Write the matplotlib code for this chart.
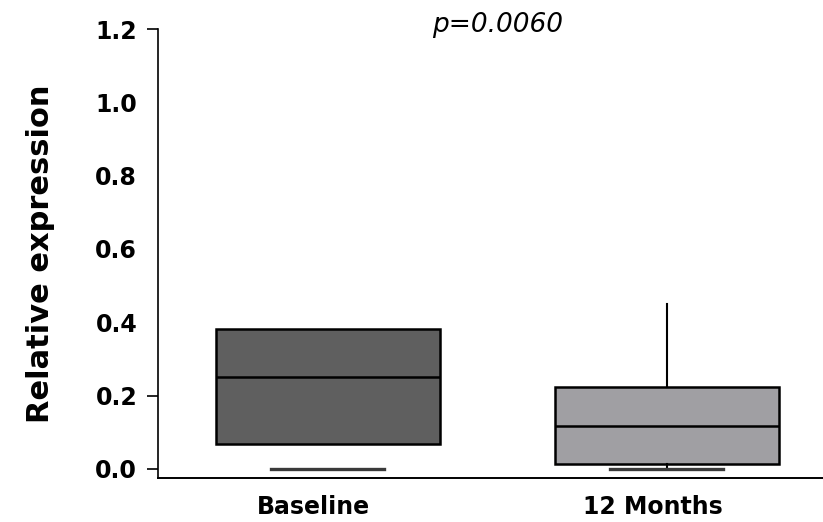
import matplotlib
matplotlib.use("Agg")
import matplotlib.pyplot as plt
import matplotlib.transforms as mtransforms

# data
groups = ["Baseline", "12 Months"]
q1 = [0.068, 0.014]
median = [0.251, 0.117]
q3 = [0.382, 0.224]
whis_lo = [0.0, 0.0]
whis_hi = [0.382, 0.45]
colors = ["#5f5f5f", "#a09fa3"]
p_text = "p=0.0060"
yticks = [0.0, 0.2, 0.4, 0.6, 0.8, 1.0, 1.2]

plt.rcParams['font.family'] = 'DejaVu Sans'

fig = plt.figure(figsize=(8.23, 5.22), dpi=100)
ax = fig.add_axes([0.192, 0.0843, 0.808, 0.8601])

stats = []
for i in range(len(groups)):
    stats.append(dict(med=median[i], q1=q1[i], q3=q3[i],
                      whislo=whis_lo[i], whishi=whis_hi[i],
                      label=groups[i], fliers=[]))

bp = ax.bxp(stats, positions=[1, 2], widths=0.66, patch_artist=True,
            showfliers=False, capwidths=0.333,
            boxprops=dict(linewidth=1.8, edgecolor='black'),
            medianprops=dict(color='black', linewidth=1.8),
            whiskerprops=dict(color='black', linewidth=1.5),
            capprops=dict(color='#3a3a3a', linewidth=2.4))

for patch, c in zip(bp['boxes'], colors):
    patch.set_facecolor(c)

# the reference shows no lower whisker on Baseline and no top caps
bp['whiskers'][0].set_visible(False)
bp['caps'][1].set_visible(False)
bp['caps'][3].set_visible(False)

ax.set_xlim(0.5, 2.46)
ax.set_ylim(-0.025, 1.2)
ax.set_yticks(yticks)
ax.set_yticklabels([f"{v:.1f}" for v in yticks], fontsize=17, fontweight='bold')
ax.set_xticks([1, 2])
ax.set_xticklabels(groups, fontsize=17, fontweight='bold')
ax.tick_params(axis='y', length=8, width=1.2, pad=7)
ax.tick_params(axis='x', length=0, pad=12)

# x labels sit a little left of the box centres in the reference
shift = mtransforms.ScaledTranslation(-0.14, 0, fig.dpi_scale_trans)
for lab in ax.get_xticklabels():
    lab.set_transform(lab.get_transform() + shift)

# only some tick marks are drawn in the reference
for t, v in zip(ax.yaxis.get_major_ticks(), yticks):
    if v not in (0.0, 0.2, 1.2):
        t.tick1line.set_visible(False)

ax.spines['top'].set_visible(False)
ax.spines['right'].set_visible(False)
ax.spines['left'].set_linewidth(1.2)
ax.spines['bottom'].set_linewidth(1.4)

ax.set_ylabel("Relative expression", fontsize=22, fontweight='bold')
ax.yaxis.set_label_coords(-0.155, 0.5)

ax.text(1.5, 1.211, p_text, fontsize=19, style='italic',
        ha='center', va='center', clip_on=False)

fig.savefig("out.png", dpi=100)
